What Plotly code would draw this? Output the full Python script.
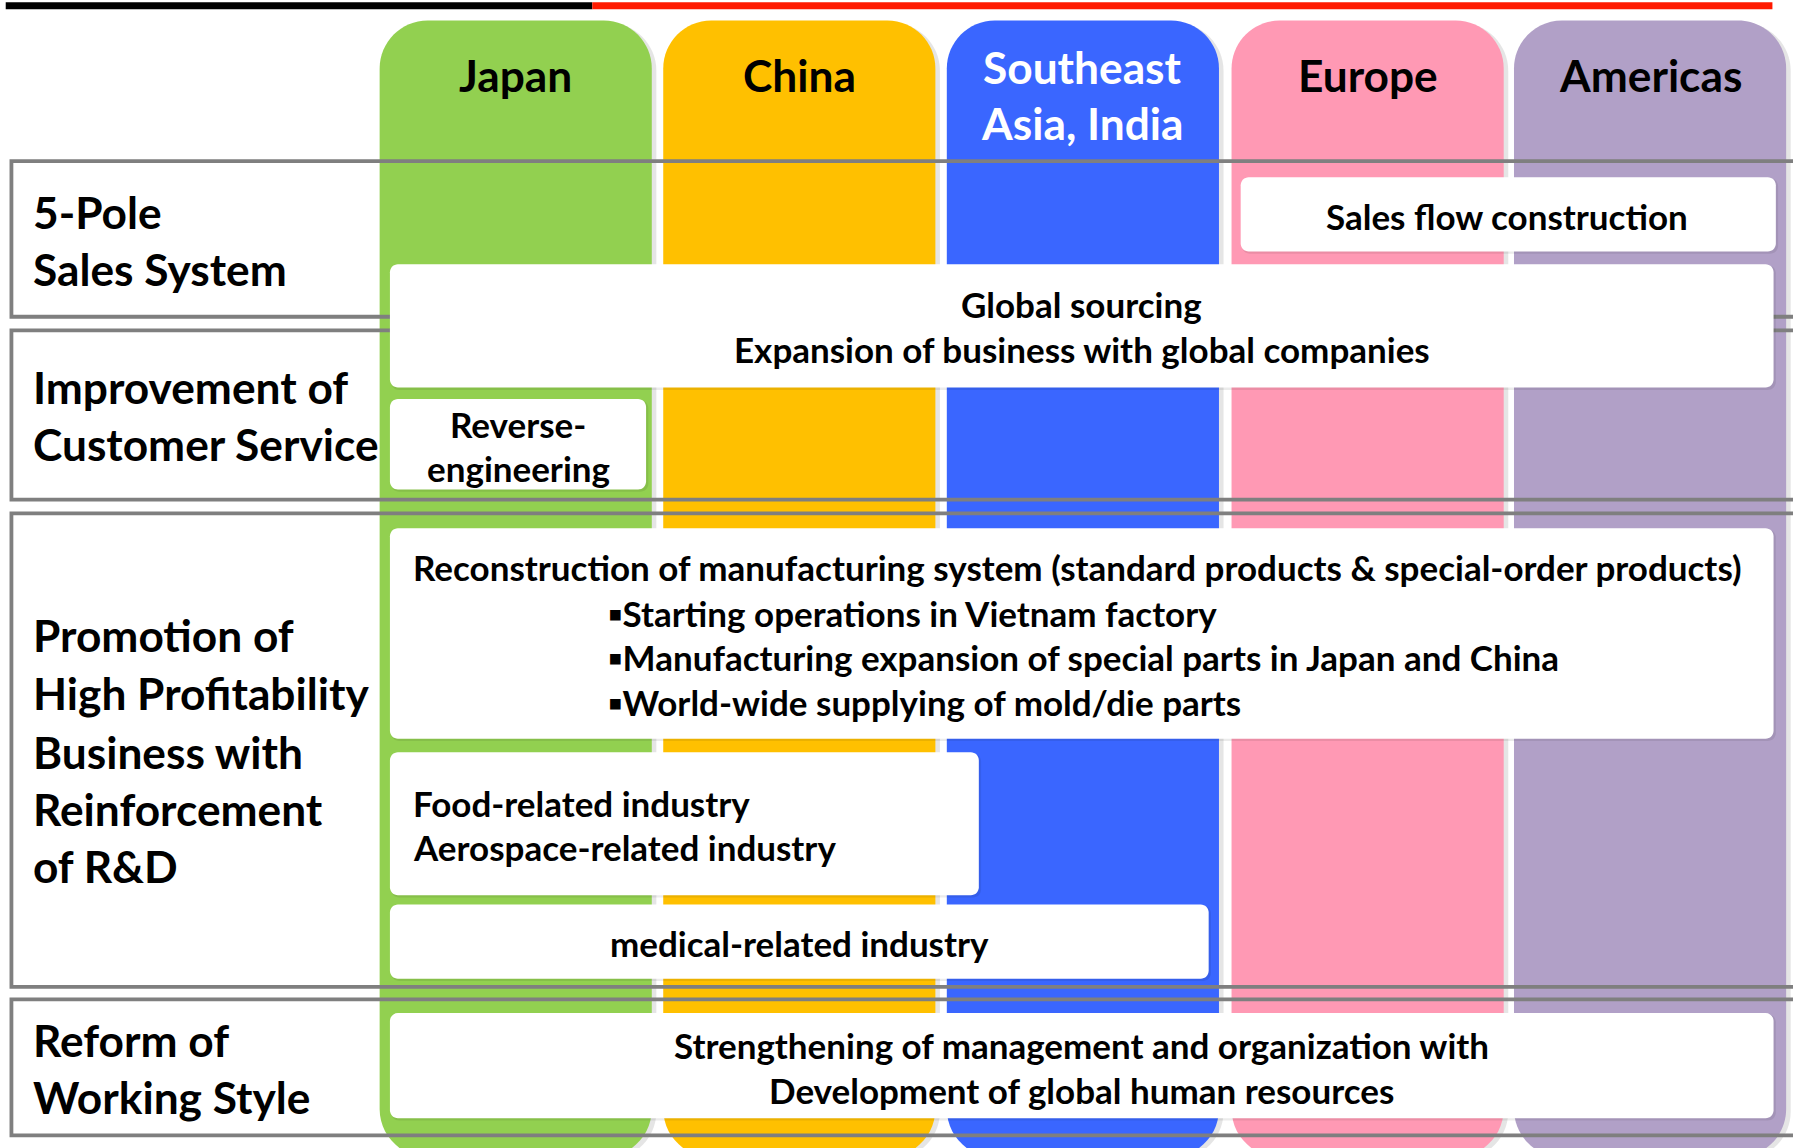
import plotly.graph_objects as go

# ---------------- data ----------------
regions = ["Japan", "China", "Southeast<br>Asia, India", "Europe", "Americas"]
region_colors = ["#92D050", "#FFC000", "#3A66FF", "#FF99B4", "#B1A0C7"]
region_text_colors = ["#000000", "#000000", "#FFFFFF", "#000000", "#000000"]

row_labels = [
    ["5-Pole", "Sales System"],
    ["Improvement of", "Customer Service"],
    ["Promotion of", "High Profitability", "Business with", "Reinforcement", "of R&D"],
    ["Reform of", "Working Style"],
]

box_texts = [
    ["Sales flow construction"],
    ["Global sourcing", "Expansion of business with global companies"],
    ["Reverse-", "engineering"],
    ["Reconstruction of manufacturing system (standard products & special-order products)",
     "\u25aaStarting operations in Vietnam factory",
     "\u25aaManufacturing expansion of special parts in Japan and China",
     "\u25aaWorld-wide supplying of mold/die parts"],
    ["Food-related industry", "Aerospace-related industry"],
    ["medical-related industry"],
    ["Strengthening of management and organization with",
     "Development of global human resources"],
]

# ---------------- geometry (reference units, 1568 x 1004) ----------------
W, H = 1568, 1004
S = 1793 / 1568
col_x0 = [332, 580, 828, 1077, 1324]
col_w = 238
col_top, col_bot = 18, 1012
header_y = [[65], [65], [58, 107], [65], [65]]

row_y = [(141, 277), (289, 437), (449, 863), (874, 993)]
row_label_y = [[185, 235], [338, 388], [555, 606, 657, 707, 757], [909, 959]]

# box: x0, x1, y0, y1, text anchor, text x, line ys
boxes = [
    (1085, 1553, 155, 220, "center", [1318], [189]),
    (341, 1551, 231, 339, "center", [946], [266, 305]),
    (341, 565, 349, 428, "center", [453], [371, 409]),
    (341, 1551, 462, 646, "left", [359, 530, 530, 530], [496, 536, 575, 614]),
    (341, 856, 658, 783, "left", [359], [702, 741]),
    (341, 1057, 791, 856, "center", [699], [825]),
    (341, 1551, 886, 978, "center", [946], [914, 953]),
]

FONT = "Lato, Calibri, 'Open Sans', sans-serif"
BIG = 38.7 * S
SMALL = 30.6 * S


def rpath(x0, y0, x1, y1, r):
    k = 0.5523 * r
    return (f"M{x0+r},{y0} L{x1-r},{y0} C{x1-r+k},{y0} {x1},{y0+r-k} {x1},{y0+r} "
            f"L{x1},{y1-r} C{x1},{y1-r+k} {x1-r+k},{y1} {x1-r},{y1} "
            f"L{x0+r},{y1} C{x0+r-k},{y1} {x0},{y1-r+k} {x0},{y1-r} "
            f"L{x0},{y0+r} C{x0},{y0+r-k} {x0+r-k},{y0} {x0+r},{y0} Z")


shapes = []
ann = []

# top bar
shapes.append(dict(type="rect", x0=5, x1=518, y0=2, y1=8, fillcolor="#000000", line=dict(width=0)))
shapes.append(dict(type="rect", x0=518, x1=1550, y0=2, y1=8, fillcolor="#FF1A00", line=dict(width=0)))

# columns
for i, (name, c, tc) in enumerate(zip(regions, region_colors, region_text_colors)):
    x0 = col_x0[i]
    shapes.append(dict(type="path", path=rpath(x0 + 3, col_top + 2, x0 + col_w + 4, col_bot + 2, 42),
                       fillcolor="rgba(0,0,0,0.10)", line=dict(width=0)))
    shapes.append(dict(type="path", path=rpath(x0, col_top, x0 + col_w, col_bot, 42),
                       fillcolor=c, line=dict(width=0)))
    lines = name.split("<br>")
    for ln, yy in zip(lines, header_y[i]):
        ann.append(dict(x=x0 + col_w / 2, y=yy, text=ln, showarrow=False, xanchor="center", yanchor="middle",
                        font=dict(family=FONT, size=BIG, color=tc, weight=700)))

# white row-label backgrounds
for (y0, y1) in row_y:
    shapes.insert(2, dict(type="rect", x0=10, x1=332, y0=y0, y1=y1, fillcolor="#FFFFFF", line=dict(width=0)))

# row frames
for (y0, y1), labels, lys in zip(row_y, row_labels, row_label_y):
    shapes.append(dict(type="rect", x0=10, x1=1600, y0=y0, y1=y1, fillcolor="rgba(0,0,0,0)",
                       line=dict(color="#7F7F7F", width=3.8)))
    for lb, yy in zip(labels, lys):
        ann.append(dict(x=27, y=yy, text=lb, showarrow=False, xanchor="left", yanchor="middle",
                        font=dict(family=FONT, size=BIG, color="#000000", weight=700)))

# white boxes
for (x0, x1, y0, y1, anchor, txs, tys), texts in zip(boxes, box_texts):
    shapes.append(dict(type="path", path=rpath(x0 + 1, y0 + 1, x1 + 2, y1 + 2, 7),
                       fillcolor="rgba(0,0,0,0.08)", line=dict(width=0)))
    shapes.append(dict(type="path", path=rpath(x0, y0, x1, y1, 7), fillcolor="#FFFFFF", line=dict(width=0)))
    for j, (t, yy) in enumerate(zip(texts, tys)):
        tx = txs[j] if j < len(txs) else txs[0]
        ann.append(dict(x=tx, y=yy, text=t, showarrow=False, xanchor=anchor, yanchor="middle",
                        font=dict(family=FONT, size=SMALL, color="#000000", weight=700)))

fig = go.Figure()
fig.update_layout(
    width=1793, height=1148,
    margin=dict(l=0, r=0, t=0, b=0),
    paper_bgcolor="#FFFFFF", plot_bgcolor="#FFFFFF",
    xaxis=dict(range=[0, W], visible=False, fixedrange=True),
    yaxis=dict(range=[H, 0], visible=False, fixedrange=True),
    shapes=shapes, annotations=ann, showlegend=False,
)
fig.write_html("out.html", config={"displayModeBar": False},
               post_script="document.body.style.margin='0';document.body.style.overflow='hidden';")
